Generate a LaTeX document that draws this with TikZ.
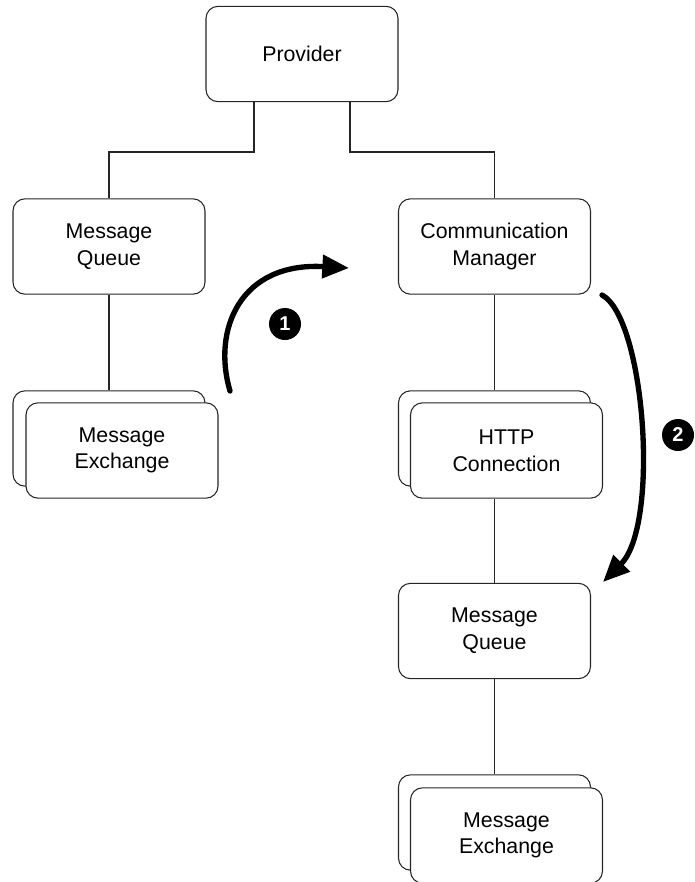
\documentclass[tikz,border=0pt]{standalone}
\usepackage{fontspec}
\setmainfont{Liberation Sans}
\usetikzlibrary{arrows.meta,calc}
\begin{document}
\begin{tikzpicture}[x=0.75pt,y=-0.75pt,
  box/.style={draw=black!85,line width=0.8pt,rounded corners=9pt,fill=white,
    minimum width=144pt,minimum height=71.5pt,align=center,inner sep=0pt,
    font=\fontsize{16}{20}\selectfont},
  wire/.style={draw=black!85,line width=0.8pt},
  flow/.style={line width=4pt,line cap=round,-{Triangle[length=20pt,width=17pt]}},
  badge/.style={circle,fill=black,text=white,minimum size=24pt,inner sep=0pt,
    font=\fontsize{15}{15}\bfseries\selectfont}]
\useasboundingbox (0,0) rectangle (694,882);

% nodes
\node[box] (prov) at (302,54) {Provider};
\node[box] (mq1) at (109,246.5) {Message\\Queue};
\node[box] (me1b) at (109,438.5) {};
\node[box] (me1) at (122,450.5) {Message\\Exchange};
\node[box] (cm) at (494.5,246.5) {Communication\\Manager};
\node[box] (httpb) at (494.5,438.5) {};
\node[box] (http) at (506.5,450.5) {HTTP\\Connection};
\node[box] (mq2) at (494.5,631) {Message\\Queue};
\node[box] (me2b) at (494.5,822.5) {};
\node[box] (me2) at (506.5,835.5) {Message\\Exchange};

% tree connectors
\coordinate (jl) at (254,152);
\coordinate (jr) at (350,152);
\draw[wire] (prov.south -| jl) -- (jl) -| (mq1.north);
\draw[wire] (prov.south -| jr) -- (jr) -| (cm.north);
\draw[wire] (mq1) -- (me1b);
\draw[wire] (cm) -- (httpb);
\draw[wire] (http.south -| httpb) -- (mq2.north);
\draw[wire] (mq2) -- (me2b);

% flow arrows
\coordinate (a1s) at (230,391);
\coordinate (a1e) at (349,268);
\draw[flow] (a1s) .. controls (212,330) and (240,262) .. (a1e);
\node[badge] (b1) at (285,324) {1};

\coordinate (a2s) at (602,295);
\coordinate (a2e) at (603,582);
\draw[flow] (a2s) .. controls (645,318) and (660,525) .. (a2e);
\node[badge] (b2) at (678,435) {2};
\end{tikzpicture}
\end{document}
